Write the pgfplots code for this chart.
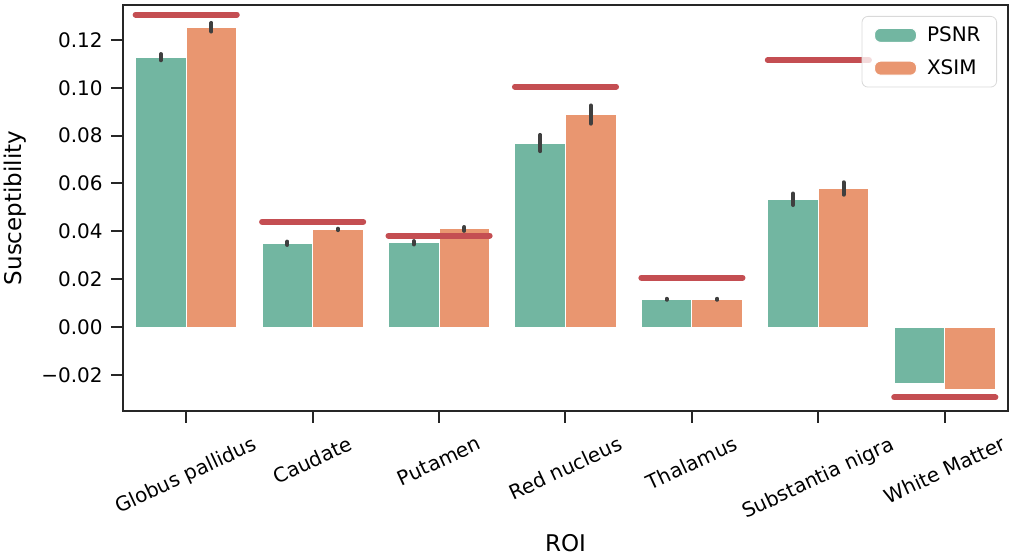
\documentclass[border=0pt]{standalone}
\usepackage{fontspec}
\setmainfont{DejaVu Sans}
\usepackage{graphicx}
\usepackage{pgfplots}
\pgfplotsset{compat=1.18}
\definecolor{psnr}{HTML}{72B6A1}
\definecolor{xsim}{HTML}{E99670}
\definecolor{refred}{HTML}{C44E52}
\definecolor{errc}{HTML}{3F3F3F}
\definecolor{axc}{HTML}{262626}
\begin{document}
\begin{tikzpicture}
\useasboundingbox (-61.5pt,-72.5pt) rectangle (445pt,205.5pt);
\begin{axis}[
  at={(0,0)}, anchor=south west,
  scale only axis, width=442.5pt, height=203pt,
  xmin=-0.5, xmax=6.5, ymin=-0.0351, ymax=0.1346,
  axis line style={axc, line width=1pt},
  tick align=outside, major tick length=6pt,
  every tick/.style={axc, line width=1pt},
  xtick pos=left, ytick pos=left,
  xtick={0,1,2,3,4,5,6},
  xticklabels={\rotatebox{25}{Globus pallidus},\rotatebox{25}{Caudate},\rotatebox{25}{Putamen},\rotatebox{25}{Red nucleus},\rotatebox{25}{Thalamus},\rotatebox{25}{Substantia nigra},\rotatebox{25}{White Matter}},
  ytick={-0.02,0,0.02,0.04,0.06,0.08,0.10,0.12},
  yticklabels={−0.02,0.00,0.02,0.04,0.06,0.08,0.10,0.12},
  xticklabel style={font=\fontsize{10}{12}\selectfont, anchor=north, inner sep=0pt, yshift=-6pt},
  yticklabel style={font=\fontsize{10}{12}\selectfont, anchor=east, inner sep=0pt, xshift=-4pt},
  xlabel={ROI}, ylabel={Susceptibility},
  every axis x label/.style={at={(rel axis cs:0.5,0)}, anchor=base, yshift=-70.3pt, font=\fontsize{11.5}{13}\selectfont},
  every axis y label/.style={at={(axis description cs:-0.122,0.5)}, anchor=center, rotate=90, font=\fontsize{11.5}{13}\selectfont},
  legend style={at={(0.9876,0.9729)}, anchor=north east, draw=black!15, rounded corners=3pt,
    fill=white, fill opacity=0.8, text opacity=1, font=\fontsize{10}{12}\selectfont,
    inner xsep=6pt, inner ysep=3pt, row sep=3.5pt, cells={anchor=west},
    /tikz/every odd column/.append style={column sep=3pt}},
  legend image code/.code={\fill[#1, fill opacity=1] (0pt,-3.5pt) rectangle (21pt,3.5pt);},
  legend entries={PSNR,XSIM},
]
\addplot[ybar, bar width=0.4, bar shift=-0.2, fill=psnr, draw=white, line width=0.5pt]
coordinates {(0,0.1128) (1,0.0350) (2,0.0352) (3,0.0769) (4,0.0116) (5,0.0534) (6,-0.0235)};
\addplot[ybar, bar width=0.4, bar shift=0.2, fill=xsim, draw=white, line width=0.5pt]
coordinates {(0,0.1253) (1,0.0408) (2,0.0410) (3,0.0888) (4,0.0116) (5,0.0579) (6,-0.0263)};
% error bars (PSNR)
\addplot[draw=none, mark=none, forget plot,
  error bars/.cd, y dir=both, y explicit, error mark=none,
  error bar style={draw=errc, line width=2pt, line cap=round}]
coordinates {
(-0.2,0.1128) +- (0,0.0013)
(0.8,0.0350) +- (0,0.0007)
(1.8,0.0352) +- (0,0.0007)
(2.8,0.0769) +- (0,0.0034)
(3.8,0.0116) +- (0,0.0002)
(4.8,0.0534) +- (0,0.0024)
};
% error bars (XSIM)
\addplot[draw=none, mark=none, forget plot,
  error bars/.cd, y dir=both, y explicit, error mark=none,
  error bar style={draw=errc, line width=2pt, line cap=round}]
coordinates {
(0.2,0.1253) +- (0,0.0018)
(1.2,0.0408) +- (0,0.0003)
(2.2,0.0410) +- (0,0.0008)
(3.2,0.0888) +- (0,0.0038)
(4.2,0.0116) +- (0,0.0002)
(5.2,0.0579) +- (0,0.0026)
};
\addplot[refred, line width=3pt, line cap=round, forget plot] coordinates {(-0.4,0.1306) (0.4,0.1306)};
\addplot[refred, line width=3pt, line cap=round, forget plot] coordinates {(0.6,0.0440) (1.4,0.0440)};
\addplot[refred, line width=3pt, line cap=round, forget plot] coordinates {(1.6,0.0382) (2.4,0.0382)};
\addplot[refred, line width=3pt, line cap=round, forget plot] coordinates {(2.6,0.1005) (3.4,0.1005)};
\addplot[refred, line width=3pt, line cap=round, forget plot] coordinates {(3.6,0.0206) (4.4,0.0206)};
\addplot[refred, line width=3pt, line cap=round, forget plot] coordinates {(4.6,0.1115) (5.4,0.1115)};
\addplot[refred, line width=3pt, line cap=round, forget plot] coordinates {(5.6,-0.0294) (6.4,-0.0294)};
\end{axis}
\end{tikzpicture}
\end{document}
